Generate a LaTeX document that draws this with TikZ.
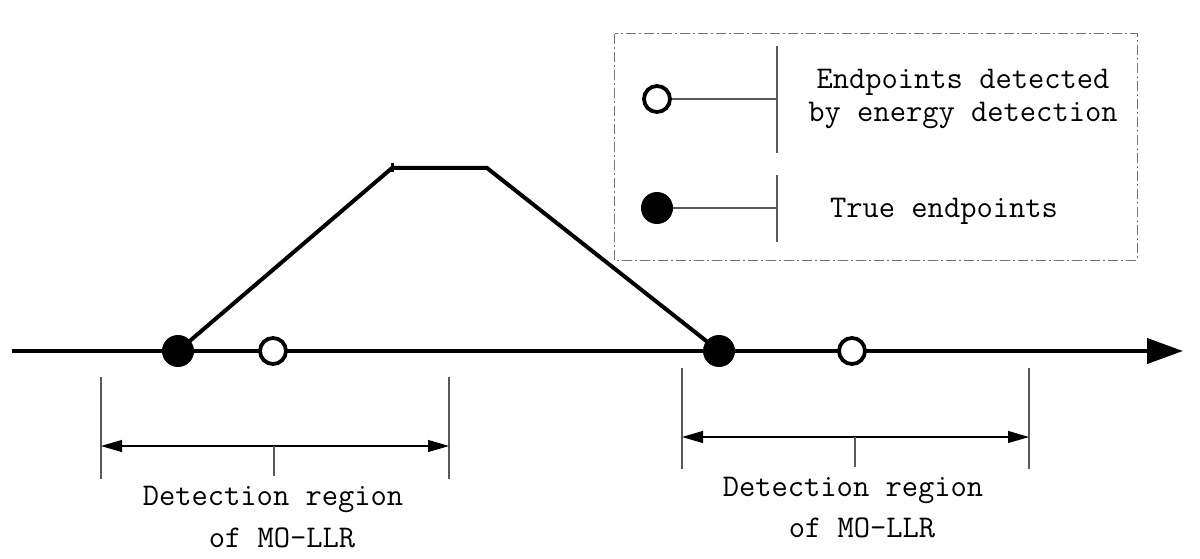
\documentclass[tikz,border=0pt]{standalone}
\usetikzlibrary{arrows.meta}
\begin{document}
\begin{tikzpicture}[x=1pt,y=-1pt,
  heavy/.style={line width=4pt},
  fdot/.style={circle,fill=black,minimum size=32pt,inner sep=0pt},
  odot/.style={circle,draw=black,fill=white,line width=3.8pt,minimum size=26pt,inner sep=0pt},
  guide/.style={line width=1.1pt,draw=black!65},
  dimarrow/.style={line width=1.1pt,draw=black,{Triangle[length=21pt,width=12pt]}-{Triangle[length=21pt,width=12pt]}},
  lbl/.style={font=\fontsize{31.6}{38}\selectfont\ttfamily,inner sep=0pt,anchor=base},
  legendbox/.style={draw=black!55,line width=1.2pt,dash pattern=on 10pt off 3pt on 2pt off 3pt}]
\useasboundingbox (0,0) rectangle (1200,559);

% axis
\coordinate (axL) at (12,351);
\coordinate (axR) at (1183,351);
\draw[heavy,-{Triangle[length=36pt,width=25pt]}] (axL) -- (axR);

% trapezoid
\coordinate (p1) at (392,168);
\coordinate (p2) at (487,168);
\coordinate (t1c) at (178,351);
\coordinate (t2c) at (719,351);
\draw[heavy,line join=miter] (t1c) -- (p1) -- (p2) -- (t2c);
\coordinate (k1) at (392,163);
\coordinate (k2) at (392,172);
\draw[line width=3pt] (k1) -- (k2);

% endpoints
\node[fdot] (t1) at (t1c) {};
\node[odot] (e1) at (273,351) {};
\node[fdot] (t2) at (t2c) {};
\node[odot] (e2) at (852,351) {};

% left detection region
\coordinate (la1) at (101,377); \coordinate (la2) at (101,479);
\coordinate (lb1) at (449,377); \coordinate (lb2) at (449,479);
\coordinate (lm1) at (101,446); \coordinate (lm2) at (449,446);
\coordinate (lt1) at (274,446); \coordinate (lt2) at (274,476);
\draw[guide] (la1) -- (la2);
\draw[guide] (lb1) -- (lb2);
\draw[dimarrow] (lm1) -- (lm2);
\draw[guide] (lt1) -- (lt2);
\node[lbl] (ltxt1) at (273,505) {Detection region};
\node[lbl] (ltxt2) at (282,547) {of MO-LLR};

% right detection region
\coordinate (ra1) at (682,368); \coordinate (ra2) at (682,469);
\coordinate (rb1) at (1029,368); \coordinate (rb2) at (1029,469);
\coordinate (rm1) at (682,437); \coordinate (rm2) at (1029,437);
\coordinate (rt1) at (855,437); \coordinate (rt2) at (855,467);
\draw[guide] (ra1) -- (ra2);
\draw[guide] (rb1) -- (rb2);
\draw[dimarrow] (rm1) -- (rm2);
\draw[guide] (rt1) -- (rt2);
\node[lbl] (rtxt1) at (853,496) {Detection region};
\node[lbl] (rtxt2) at (862,537) {of MO-LLR};

% legend
\node[draw=none,inner sep=0pt,minimum width=522pt,minimum height=226pt] (legend) at (876,147) {};
\draw[legendbox] (legend.north west) rectangle (legend.south east);
\node[odot] (lgo) at (657,99) {};
\coordinate (lgo1) at (777,99);
\coordinate (lgv1) at (777,46); \coordinate (lgv2) at (777,153);
\draw[guide] (lgo) -- (lgo1);
\draw[guide] (lgv1) -- (lgv2);
\node[fdot] (lgf) at (657,208) {};
\coordinate (lgf1) at (777,208);
\coordinate (lgw1) at (777,175); \coordinate (lgw2) at (777,242);
\draw[guide] (lgf) -- (lgf1);
\draw[guide] (lgw1) -- (lgw2);
\node[lbl] (lgt1) at (963,89) {Endpoints detected};
\node[lbl] (lgt2) at (963,122) {by energy detection};
\node[lbl] (lgt3) at (944,218) {True endpoints};
\end{tikzpicture}
\end{document}
